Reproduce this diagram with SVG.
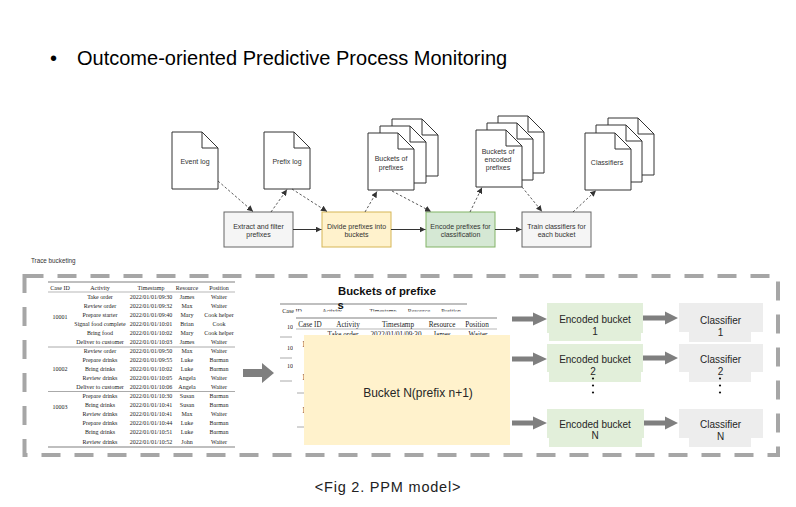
<svg xmlns="http://www.w3.org/2000/svg" xmlns:xlink="http://www.w3.org/1999/xlink" width="796" height="507" viewBox="0 0 796 507">
<style>
.t{font-family:"Liberation Sans",Arial,sans-serif;fill:#333}
.fl{font-family:"Liberation Sans",Arial,sans-serif;font-size:7px;fill:#333;text-anchor:middle}
.doc{fill:#fff;stroke:#333;stroke-width:1}
.box{stroke-width:1}
.dash{fill:none;stroke:#333;stroke-width:0.8;stroke-dasharray:2.5 2;marker-end:url(#ah)}
.sol{fill:none;stroke:#333;stroke-width:1;marker-end:url(#ah)}
.tb{font-family:"Liberation Serif","Times New Roman",serif;font-size:6px;fill:#222;text-anchor:middle}
.tb2{font-family:"Liberation Serif","Times New Roman",serif;font-size:7.2px;fill:#222;text-anchor:middle}
.hl{stroke:#aaa;stroke-width:1.6}
.tl{stroke:#999;stroke-width:0.7}
.gl{stroke:#aaa;stroke-width:1}
.ga{fill:#7f7f7f}
.eb{fill:#e2efda}
.cb{fill:#ededed}
.rt{font-family:"Liberation Sans",Arial,sans-serif;font-size:10px;fill:#262626;text-anchor:middle}
</style>
<defs>
<marker id="ah" markerUnits="userSpaceOnUse" markerWidth="6" markerHeight="6" refX="6" refY="3" orient="auto">
<path d="M0,0 L6,3 L0,6 Z" fill="#333"/>
</marker>
<g id="doc"><path class="doc" d="M0 0 H30 L46 16 V57 H0 Z"/><path d="M30 0 V16 H46" fill="none" stroke="#333" stroke-width="1"/></g>
<clipPath id="cl1"><rect x="270" y="300" width="23" height="150"/></clipPath>
</defs>
<rect width="796" height="507" fill="#fff"/>

<g id="title">
<text class="t" x="50" y="65" font-size="20" style="fill:#000">•</text>
<text class="t" x="77" y="65" font-size="20" style="fill:#000">Outcome-oriented Predictive Process Monitoring</text>
</g>

<g id="event-log"><use xlink:href="#doc" x="172" y="132"/><text class="fl" x="195" y="163.5">Event log</text></g>
<g id="prefix-log"><use xlink:href="#doc" x="264" y="132"/><text class="fl" x="287" y="163.5">Prefix log</text></g>
<g id="buckets-prefixes"><use xlink:href="#doc" x="392" y="119"/><use xlink:href="#doc" x="380" y="126"/><use xlink:href="#doc" x="368" y="133"/>
<text class="fl" x="391" y="160.5">Buckets of</text><text class="fl" x="391" y="169.5">prefixes</text></g>
<g id="buckets-encoded"><use xlink:href="#doc" x="498" y="116"/><use xlink:href="#doc" x="487" y="123"/><use xlink:href="#doc" x="476" y="130"/>
<text class="fl" x="498" y="154">Buckets of</text><text class="fl" x="498" y="162">encoded</text><text class="fl" x="498" y="170">prefixes</text></g>
<g id="classifiers"><use xlink:href="#doc" x="608" y="118"/><use xlink:href="#doc" x="596" y="125"/><use xlink:href="#doc" x="585" y="133"/>
<text class="fl" x="607" y="164.5">Classifiers</text></g>

<g id="extract"><rect class="box" x="224" y="212" width="69" height="35" fill="#f5f5f5" stroke="#666"/>
<text class="fl" x="258.5" y="228.5">Extract and filter</text><text class="fl" x="258.5" y="237">prefixes</text></g>
<g id="divide"><rect class="box" x="322" y="212" width="69" height="35" fill="#fff2cc" stroke="#d6b656"/>
<text class="fl" x="356.5" y="228.5">Divide prefixes into</text><text class="fl" x="356.5" y="237">buckets</text></g>
<g id="encode"><rect class="box" x="426" y="212" width="69" height="35" fill="#d5e8d4" stroke="#82b366"/>
<text class="fl" x="460.5" y="228.5">Encode prefixes for</text><text class="fl" x="460.5" y="237">classification</text></g>
<g id="train"><rect class="box" x="522" y="212" width="69" height="35" fill="#f5f5f5" stroke="#666"/>
<text class="fl" x="556.5" y="228.5">Train classifiers for</text><text class="fl" x="556.5" y="237">each bucket</text></g>

<g id="connectors">
<line class="dash" x1="218" y1="181" x2="253" y2="211.5"/>
<line class="dash" x1="271" y1="212" x2="287" y2="189.5"/>
<line class="dash" x1="292" y1="189" x2="327" y2="211.5"/>
<line class="dash" x1="365" y1="212" x2="377" y2="191.5"/>
<line class="dash" x1="392" y1="191" x2="431" y2="211.5"/>
<line class="dash" x1="470" y1="212" x2="482" y2="187.5"/>
<line class="dash" x1="522" y1="187" x2="542" y2="211.5"/>
<line class="dash" x1="573" y1="212" x2="596" y2="190.5"/>
<line class="sol" x1="293" y1="229.5" x2="321.5" y2="229.5"/>
<line class="sol" x1="391" y1="229.5" x2="425.5" y2="229.5"/>
<line class="sol" x1="495" y1="229.5" x2="521.5" y2="229.5"/>
<polygon class="ga" points="243,369 262,369 262,363 274,373 262,383 262,377 243,377"/>
<polygon class="ga" points="512,316.5 533,316.5 533,312.5 547,319 533,325.5 533,321.5 512,321.5"/>
<polygon class="ga" points="512,356.5 533,356.5 533,352.5 547,359 533,365.5 533,361.5 512,361.5"/>
<polygon class="ga" points="512,420.5 533,420.5 533,416.5 547,423 533,429.5 533,425.5 512,425.5"/>
<polygon class="ga" points="643,315.5 665,315.5 665,311.5 678,318 665,324.5 665,320.5 643,320.5"/>
<polygon class="ga" points="643,355.5 665,355.5 665,351.5 678,358 665,364.5 665,360.5 643,360.5"/>
<polygon class="ga" points="643,420.5 665,420.5 665,416.5 678,423 665,429.5 665,425.5 643,425.5"/>
</g>

<text class="t" x="31" y="263" font-size="6.3">Trace bucketing</text>
<rect x="24.5" y="276" width="753.5" height="179" fill="none" stroke="#a6a6a6" stroke-width="4" stroke-dasharray="19 14"/>

<g id="trace-table">
<line class="hl" x1="48" y1="282" x2="235" y2="282"/>
<line class="tl" x1="48" y1="292" x2="235" y2="292"/>
<line class="gl" x1="48" y1="347" x2="235" y2="347"/>
<line class="gl" x1="48" y1="391.5" x2="235" y2="391.5"/>
<line class="hl" x1="48" y1="447" x2="235" y2="447"/>
<text class="tb" x="60" y="290">Case ID</text><text class="tb" x="100" y="290">Activity</text><text class="tb" x="151" y="290">Timestamp</text><text class="tb" x="187" y="290">Resource</text><text class="tb" x="219" y="290">Position</text>
<text class="tb" x="60" y="319">10001</text><text class="tb" x="60" y="371">10002</text><text class="tb" x="60" y="409">10003</text>
<text class="tb" x="100" y="299">Take order</text><text class="tb" x="151" y="299">2022/01/01/09:30</text><text class="tb" x="187" y="299">James</text><text class="tb" x="219" y="299">Waiter</text>
<text class="tb" x="100" y="308">Review order</text><text class="tb" x="151" y="308">2022/01/01/09:32</text><text class="tb" x="187" y="308">Max</text><text class="tb" x="219" y="308">Waiter</text>
<text class="tb" x="100" y="317">Prepare starter</text><text class="tb" x="151" y="317">2022/01/01/09:40</text><text class="tb" x="187" y="317">Mary</text><text class="tb" x="219" y="317">Cook helper</text>
<text class="tb" x="100" y="326">Signal food complete</text><text class="tb" x="151" y="326">2022/01/01/10:01</text><text class="tb" x="187" y="326">Brian</text><text class="tb" x="219" y="326">Cook</text>
<text class="tb" x="100" y="335">Bring food</text><text class="tb" x="151" y="335">2022/01/01/10:02</text><text class="tb" x="187" y="335">Mary</text><text class="tb" x="219" y="335">Cook helper</text>
<text class="tb" x="100" y="344">Deliver to customer</text><text class="tb" x="151" y="344">2022/01/01/10:03</text><text class="tb" x="187" y="344">James</text><text class="tb" x="219" y="344">Waiter</text>
<text class="tb" x="100" y="353">Review order</text><text class="tb" x="151" y="353">2022/01/01/09:50</text><text class="tb" x="187" y="353">Max</text><text class="tb" x="219" y="353">Waiter</text>
<text class="tb" x="100" y="362">Prepare drinks</text><text class="tb" x="151" y="362">2022/01/01/09:55</text><text class="tb" x="187" y="362">Luke</text><text class="tb" x="219" y="362">Barman</text>
<text class="tb" x="100" y="371">Bring drinks</text><text class="tb" x="151" y="371">2022/01/01/10:02</text><text class="tb" x="187" y="371">Luke</text><text class="tb" x="219" y="371">Barman</text>
<text class="tb" x="100" y="380">Review drinks</text><text class="tb" x="151" y="380">2022/01/01/10:05</text><text class="tb" x="187" y="380">Angela</text><text class="tb" x="219" y="380">Waiter</text>
<text class="tb" x="100" y="389">Deliver to customer</text><text class="tb" x="151" y="389">2022/01/01/10:06</text><text class="tb" x="187" y="389">Angela</text><text class="tb" x="219" y="389">Waiter</text>
<text class="tb" x="100" y="398">Prepare drinks</text><text class="tb" x="151" y="398">2022/01/01/10:30</text><text class="tb" x="187" y="398">Susan</text><text class="tb" x="219" y="398">Barman</text>
<text class="tb" x="100" y="407">Bring drinks</text><text class="tb" x="151" y="407">2022/01/01/10:41</text><text class="tb" x="187" y="407">Susan</text><text class="tb" x="219" y="407">Barman</text>
<text class="tb" x="100" y="416">Review drinks</text><text class="tb" x="151" y="416">2022/01/01/10:41</text><text class="tb" x="187" y="416">Max</text><text class="tb" x="219" y="416">Waiter</text>
<text class="tb" x="100" y="425">Prepare drinks</text><text class="tb" x="151" y="425">2022/01/01/10:44</text><text class="tb" x="187" y="425">Luke</text><text class="tb" x="219" y="425">Barman</text>
<text class="tb" x="100" y="434">Bring drinks</text><text class="tb" x="151" y="434">2022/01/01/10:51</text><text class="tb" x="187" y="434">Luke</text><text class="tb" x="219" y="434">Barman</text>
<text class="tb" x="100" y="444">Review drinks</text><text class="tb" x="151" y="444">2022/01/01/10:52</text><text class="tb" x="187" y="444">John</text><text class="tb" x="219" y="444">Waiter</text>
</g>

<g id="bucket-back-table">
<line class="hl" x1="280" y1="304" x2="467" y2="304"/>
<text class="tb" x="292" y="313">Case ID</text><text class="tb" x="332" y="313">Activity</text><text class="tb" x="383" y="313">Timestamp</text><text class="tb" x="419" y="313">Resource</text><text class="tb" x="451" y="313">Position</text>
<g clip-path="url(#cl1)">
<text class="tb" x="287" y="329" style="text-anchor:start">10</text>
<text class="tb" x="287" y="350" style="text-anchor:start">10</text>
<text class="tb" x="287" y="368" style="text-anchor:start">10</text>
<line class="gl" x1="280" y1="337" x2="292" y2="337"/>
<line class="gl" x1="280" y1="358" x2="292" y2="358"/>
<line class="gl" x1="280" y1="381" x2="292" y2="381"/>
</g>
</g>

<g id="bucket-front-table">
<rect x="294" y="311.5" width="206" height="136" fill="#fff"/>
<line class="hl" x1="296" y1="318" x2="497" y2="318"/>
<line class="tl" x1="296" y1="329" x2="497" y2="329"/>
<text class="tb2" x="310" y="326.5">Case ID</text><text class="tb2" x="348" y="326.5">Activity</text><text class="tb2" x="398" y="326.5">Timestamp</text><text class="tb2" x="442" y="326.5">Resource</text><text class="tb2" x="477" y="326.5">Position</text>
<text class="tb2" x="343" y="337">Take order</text><text class="tb2" x="396" y="337">2022/01/01/09:30</text><text class="tb2" x="442" y="337">James</text><text class="tb2" x="478" y="337">Waiter</text>
<text class="tb2" x="302" y="346.5" style="text-anchor:start">1</text>
<text class="tb2" x="302" y="379.5" style="text-anchor:start">1</text>
<text class="tb2" x="302" y="412.5" style="text-anchor:start">1</text>
<line class="gl" x1="297" y1="393" x2="305" y2="393"/>
<line class="gl" x1="297" y1="427" x2="305" y2="427"/>
</g>

<g id="bucket-n">
<rect x="304" y="335" width="206" height="110" fill="#fff2cc"/>
<text class="t" x="418" y="397" font-size="12" text-anchor="middle" style="fill:#262626">Bucket N(prefix n+1)</text>
</g>
<g id="buckets-title">
<text class="t" x="338" y="295" font-size="11.3" font-weight="bold" style="fill:#111">Buckets of prefixe</text>
<text class="t" x="337.5" y="309" font-size="11.3" font-weight="bold" style="fill:#111">s</text>
</g>

<g id="encoded-1"><path class="eb" d="M547,303 H643 V333 H641 V341 H549 V333 H547 Z"/><text class="rt" x="595" y="322.5">Encoded bucket</text><text class="rt" x="595" y="334.5">1</text></g>
<g id="encoded-2"><path class="eb" d="M547,344 H643 V372 H641 V382 H549 V372 H547 Z"/><text class="rt" x="595" y="362.5">Encoded bucket</text><text class="rt" x="593" y="374.5">2</text></g>
<g id="encoded-n"><path class="eb" d="M547,409 H644 V438 H642 V447 H549 V438 H547 Z"/><text class="rt" x="595" y="427.5">Encoded bucket</text><text class="rt" x="595" y="439">N</text></g>
<g id="classifier-1"><path class="cb" d="M679,303 H763 V332 H751 V342 H689 V332 H679 Z"/><text class="rt" x="720.5" y="323.5">Classifier</text><text class="rt" x="720.5" y="335.5">1</text></g>
<g id="classifier-2"><path class="cb" d="M679,344 H763 V372 H751 V382 H689 V372 H679 Z"/><text class="rt" x="720.5" y="362.5">Classifier</text><text class="rt" x="720.5" y="374.5">2</text></g>
<g id="classifier-n"><path class="cb" d="M679,409 H763 V438 H751 V447 H689 V438 H679 Z"/><text class="rt" x="720.5" y="427.5">Classifier</text><text class="rt" x="720.5" y="439.5">N</text></g>
<g id="ellipsis" fill="#111">
<circle cx="593" cy="378.5" r="1.1"/><circle cx="593" cy="385.5" r="1.1"/><circle cx="593" cy="392.5" r="1.1"/>
<circle cx="720" cy="378.5" r="1.1"/><circle cx="720" cy="385.5" r="1.1"/><circle cx="720" cy="392.5" r="1.1"/>
</g>

<text class="t" x="388" y="492" font-size="14.5" text-anchor="middle" letter-spacing="0.8" style="fill:#222">&lt;Fig 2. PPM model&gt;</text>
</svg>
